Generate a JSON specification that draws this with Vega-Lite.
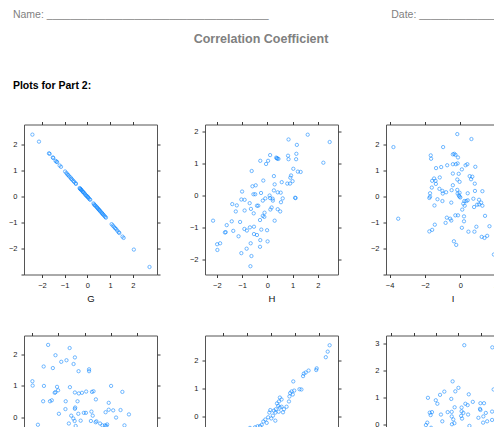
{
  "$schema": "https://vega.github.io/schema/vega-lite/v6.json",
  "background": "white",
  "padding": {"left": 7, "top": 10, "right": 0, "bottom": 0},
  "title": {
    "text": "Name: ______________________________________\u00a0\u00a0\u00a0\u00a0\u00a0\u00a0\u00a0\u00a0\u00a0\u00a0\u00a0\u00a0\u00a0\u00a0\u00a0\u00a0\u00a0\u00a0\u00a0\u00a0\u00a0\u00a0\u00a0\u00a0\u00a0\u00a0\u00a0\u00a0\u00a0\u00a0\u00a0\u00a0\u00a0\u00a0\u00a0\u00a0\u00a0\u00a0\u00a0\u00a0\u00a0\u00a0Date: __________________",
    "anchor": "start",
    "dx": 5,
    "font": "Liberation Sans",
    "fontSize": 10.5,
    "fontWeight": "normal",
    "color": "#7f7f7f",
    "offset": 11.7
  },
  "spacing": 32.5,
  "datasets": {
    "G": [
      {"x": -2.42, "y": 2.39}, {"x": -2.13, "y": 2.12}, {"x": -1.69, "y": 1.67}, {"x": -1.66, "y": 1.65},
      {"x": -1.52, "y": 1.51}, {"x": -1.5, "y": 1.49}, {"x": -1.4, "y": 1.38}, {"x": -1.36, "y": 1.35},
      {"x": -1.33, "y": 1.33}, {"x": -1.22, "y": 1.2}, {"x": -1.16, "y": 1.15}, {"x": -0.98, "y": 0.97},
      {"x": -0.92, "y": 0.91}, {"x": -0.88, "y": 0.86}, {"x": -0.84, "y": 0.83}, {"x": -0.8, "y": 0.78},
      {"x": -0.74, "y": 0.74}, {"x": -0.71, "y": 0.69}, {"x": -0.67, "y": 0.66}, {"x": -0.62, "y": 0.61},
      {"x": -0.58, "y": 0.57}, {"x": -0.52, "y": 0.52}, {"x": -0.5, "y": 0.49}, {"x": -0.34, "y": 0.33},
      {"x": -0.32, "y": 0.31}, {"x": -0.3, "y": 0.29}, {"x": -0.28, "y": 0.27}, {"x": -0.25, "y": 0.25},
      {"x": -0.22, "y": 0.21}, {"x": -0.19, "y": 0.18}, {"x": -0.16, "y": 0.16}, {"x": -0.13, "y": 0.13},
      {"x": -0.1, "y": 0.09}, {"x": -0.06, "y": 0.05}, {"x": -0.03, "y": 0.03}, {"x": 0.0, "y": 0.0},
      {"x": 0.03, "y": -0.02}, {"x": 0.06, "y": -0.06}, {"x": 0.1, "y": -0.1}, {"x": 0.13, "y": -0.12},
      {"x": 0.27, "y": -0.26}, {"x": 0.3, "y": -0.3}, {"x": 0.33, "y": -0.33}, {"x": 0.36, "y": -0.35},
      {"x": 0.4, "y": -0.39}, {"x": 0.43, "y": -0.42}, {"x": 0.46, "y": -0.45}, {"x": 0.49, "y": -0.48},
      {"x": 0.52, "y": -0.51}, {"x": 0.55, "y": -0.54}, {"x": 0.58, "y": -0.57}, {"x": 0.62, "y": -0.61},
      {"x": 0.65, "y": -0.64}, {"x": 0.68, "y": -0.67}, {"x": 0.71, "y": -0.7}, {"x": 0.75, "y": -0.74},
      {"x": 0.79, "y": -0.78}, {"x": 0.82, "y": -0.81}, {"x": 1.07, "y": -1.06}, {"x": 1.12, "y": -1.11},
      {"x": 1.17, "y": -1.16}, {"x": 1.22, "y": -1.21}, {"x": 1.27, "y": -1.25}, {"x": 1.32, "y": -1.31},
      {"x": 1.38, "y": -1.37}, {"x": 1.41, "y": -1.4}, {"x": 1.55, "y": -1.54}, {"x": 1.6, "y": -1.59},
      {"x": 2.05, "y": -2.04}, {"x": 2.74, "y": -2.71}
    ],
    "H": [
      {"x": 1.6, "y": 1.91}, {"x": 2.47, "y": 1.68}, {"x": 0.84, "y": 1.76}, {"x": 1.17, "y": 1.59},
      {"x": 0.11, "y": 1.27}, {"x": 0.35, "y": 1.19}, {"x": 0.4, "y": 1.16}, {"x": 0.44, "y": 1.15},
      {"x": 0.38, "y": 1.17}, {"x": 0.82, "y": 1.25}, {"x": 1.15, "y": 1.31}, {"x": 0.84, "y": 1.14},
      {"x": 1.14, "y": 1.14}, {"x": -0.28, "y": 1.09}, {"x": 0.03, "y": 1.09}, {"x": -0.05, "y": 0.99},
      {"x": 2.22, "y": 1.03}, {"x": 1.03, "y": 0.84}, {"x": 1.21, "y": 0.75}, {"x": 1.32, "y": 0.74},
      {"x": -0.62, "y": 0.77}, {"x": 0.26, "y": 0.61}, {"x": 0.94, "y": 0.63}, {"x": 0.91, "y": 0.56},
      {"x": 1.0, "y": 0.45}, {"x": 0.79, "y": 0.375}, {"x": 0.9, "y": 0.375}, {"x": 0.57, "y": 0.42},
      {"x": -0.16, "y": 0.47}, {"x": 0.29, "y": 0.35}, {"x": -0.46, "y": 0.32}, {"x": -0.59, "y": 0.29},
      {"x": -1.0, "y": 0.125}, {"x": -0.55, "y": 0.04}, {"x": -0.48, "y": 0.04}, {"x": -0.25, "y": 0.08},
      {"x": 0.26, "y": 0.16}, {"x": 0.41, "y": 0.1}, {"x": 0.53, "y": 0.09}, {"x": 0.09, "y": 0.0},
      {"x": 0.21, "y": -0.1}, {"x": 0.22, "y": -0.16}, {"x": 0.11, "y": -0.08}, {"x": -0.08, "y": -0.09},
      {"x": -0.18, "y": -0.16}, {"x": -1.03, "y": -0.125}, {"x": -0.9, "y": -0.135}, {"x": -1.39, "y": -0.27},
      {"x": -1.21, "y": -0.31}, {"x": -0.7, "y": -0.24}, {"x": 0.61, "y": -0.09}, {"x": 0.54, "y": -0.21},
      {"x": 1.1, "y": -0.07}, {"x": 1.12, "y": -0.08}, {"x": -0.65, "y": -0.42}, {"x": -0.41, "y": -0.32},
      {"x": -0.36, "y": -0.32}, {"x": -1.25, "y": -0.5}, {"x": -0.9, "y": -0.47}, {"x": 0.17, "y": -0.375},
      {"x": 0.12, "y": -0.44}, {"x": 0.41, "y": -0.43}, {"x": 0.51, "y": -0.5}, {"x": -0.54, "y": -0.56},
      {"x": -0.11, "y": -0.54}, {"x": -0.18, "y": -0.64}, {"x": -0.12, "y": -0.67}, {"x": -0.29, "y": -0.77},
      {"x": 0.29, "y": -0.79}, {"x": -2.15, "y": -0.79}, {"x": -1.41, "y": -0.81}, {"x": -1.08, "y": -0.83},
      {"x": -1.61, "y": -0.93}, {"x": -1.68, "y": -1.16}, {"x": -1.65, "y": -1.15}, {"x": -0.91, "y": -1.05},
      {"x": -0.81, "y": -1.1}, {"x": -0.69, "y": -1.0}, {"x": -0.53, "y": -0.98}, {"x": -1.35, "y": -1.11},
      {"x": -1.14, "y": -1.28}, {"x": -0.24, "y": -1.07}, {"x": -0.01, "y": -1.09}, {"x": -0.53, "y": -1.21},
      {"x": -0.41, "y": -1.24}, {"x": -0.28, "y": -1.4}, {"x": 0.01, "y": -1.44}, {"x": -1.87, "y": -1.5},
      {"x": -1.99, "y": -1.53}, {"x": -1.98, "y": -1.71}, {"x": -0.66, "y": -1.5}, {"x": -0.29, "y": -1.61},
      {"x": -0.82, "y": -1.67}, {"x": -1.03, "y": -1.81}, {"x": -0.63, "y": -1.9}, {"x": -0.67, "y": -2.22}
    ],
    "I": [
      {"x": -0.17, "y": 2.41}, {"x": 0.63, "y": 2.22}, {"x": -3.78, "y": 1.91}, {"x": -0.97, "y": 1.91},
      {"x": -1.67, "y": 1.59}, {"x": -1.65, "y": 1.46}, {"x": -0.34, "y": 1.65}, {"x": -0.27, "y": 1.61},
      {"x": -0.42, "y": 1.63}, {"x": -0.13, "y": 1.51}, {"x": -0.25, "y": 1.25}, {"x": -0.74, "y": 1.21},
      {"x": -0.42, "y": 1.25}, {"x": -0.15, "y": 1.28}, {"x": 0.3, "y": 1.21}, {"x": 0.4, "y": 1.25},
      {"x": 0.85, "y": 1.15}, {"x": -1.37, "y": 1.1}, {"x": -1.08, "y": 1.14}, {"x": 0.09, "y": 1.05},
      {"x": -0.42, "y": 0.89}, {"x": -0.09, "y": 0.88}, {"x": 0.53, "y": 0.79}, {"x": 0.68, "y": 0.77},
      {"x": 0.61, "y": 0.67}, {"x": -1.16, "y": 0.74}, {"x": -1.48, "y": 0.7}, {"x": -1.59, "y": 0.61},
      {"x": -1.4, "y": 0.61}, {"x": -1.38, "y": 0.49}, {"x": -0.17, "y": 0.66}, {"x": -0.04, "y": 0.57},
      {"x": 0.82, "y": 0.5}, {"x": -1.61, "y": 0.35}, {"x": -0.42, "y": 0.44}, {"x": -1.18, "y": 0.3},
      {"x": -1.01, "y": 0.22}, {"x": -0.99, "y": 0.12}, {"x": -0.8, "y": 0.17}, {"x": -0.49, "y": 0.25},
      {"x": -0.17, "y": 0.26}, {"x": -0.04, "y": 0.15}, {"x": -0.15, "y": 0.12}, {"x": 0.42, "y": 0.13},
      {"x": 0.83, "y": 0.22}, {"x": 1.25, "y": 0.21}, {"x": -1.71, "y": 0.13}, {"x": -1.71, "y": 0.0},
      {"x": -1.75, "y": -0.05}, {"x": -0.08, "y": 0.04}, {"x": -0.04, "y": 0.0}, {"x": 0.0, "y": -0.03},
      {"x": -1.29, "y": -0.1}, {"x": -1.01, "y": -0.17}, {"x": -0.51, "y": -0.23}, {"x": 0.23, "y": -0.17},
      {"x": 0.34, "y": -0.17}, {"x": 0.17, "y": -0.27}, {"x": 0.42, "y": -0.14}, {"x": 0.74, "y": -0.08},
      {"x": 1.06, "y": -0.12}, {"x": 0.95, "y": -0.31}, {"x": 1.18, "y": -0.23}, {"x": 1.06, "y": -0.3},
      {"x": -1.46, "y": -0.34}, {"x": 0.25, "y": -0.35}, {"x": 0.78, "y": -0.4}, {"x": 1.25, "y": -0.35},
      {"x": 0.11, "y": -0.5}, {"x": -0.28, "y": -0.72}, {"x": -0.13, "y": -0.72}, {"x": 1.4, "y": -0.74},
      {"x": -0.76, "y": -0.81}, {"x": -0.57, "y": -0.85}, {"x": -0.51, "y": -0.92}, {"x": -0.83, "y": -1.01},
      {"x": 0.21, "y": -0.76}, {"x": 0.21, "y": -0.95}, {"x": -3.51, "y": -0.85}, {"x": -1.44, "y": -1.08},
      {"x": -1.59, "y": -1.28}, {"x": -1.75, "y": -1.34}, {"x": 0.09, "y": -1.2}, {"x": 0.91, "y": -1.16},
      {"x": 1.65, "y": -1.14}, {"x": 0.46, "y": -1.35}, {"x": 0.8, "y": -1.35}, {"x": 1.21, "y": -1.55},
      {"x": 1.37, "y": -1.59}, {"x": 1.52, "y": -1.51}, {"x": -0.36, "y": -1.72}, {"x": -0.23, "y": -1.86},
      {"x": 1.9, "y": -2.23}
    ],
    "J": [
      {"x": -1.39, "y": 2.31}, {"x": -0.57, "y": 2.21}, {"x": -1.11, "y": 1.98}, {"x": -0.37, "y": 1.91},
      {"x": -0.89, "y": 1.77}, {"x": -0.69, "y": 1.82}, {"x": -0.42, "y": 1.7}, {"x": -1.56, "y": 1.62},
      {"x": -1.21, "y": 1.57}, {"x": -0.23, "y": 1.47}, {"x": 0.17, "y": 1.53}, {"x": 0.17, "y": 1.47},
      {"x": -1.99, "y": 1.15}, {"x": -1.98, "y": 1.01}, {"x": -1.55, "y": 1.0}, {"x": -1.05, "y": 0.97},
      {"x": -0.56, "y": 0.96}, {"x": 1.01, "y": 1.0}, {"x": -1.01, "y": 0.86}, {"x": -1.11, "y": 0.8},
      {"x": -1.14, "y": 0.78}, {"x": -0.37, "y": 0.79}, {"x": -0.22, "y": 0.76}, {"x": -0.1, "y": 0.78},
      {"x": 0.06, "y": 0.82}, {"x": 0.28, "y": 0.81}, {"x": 0.34, "y": 0.83}, {"x": 1.44, "y": 0.81},
      {"x": 0.43, "y": 0.57}, {"x": -1.58, "y": 0.51}, {"x": -1.32, "y": 0.51}, {"x": -1.25, "y": 0.54},
      {"x": -0.72, "y": 0.51}, {"x": -0.27, "y": 0.51}, {"x": 0.92, "y": 0.46}, {"x": -0.73, "y": 0.26},
      {"x": -0.37, "y": 0.27}, {"x": -0.36, "y": 0.31}, {"x": -0.03, "y": 0.14}, {"x": 0.05, "y": 0.14},
      {"x": 0.26, "y": 0.18}, {"x": 0.8, "y": 0.16}, {"x": 0.92, "y": 0.24}, {"x": 1.09, "y": 0.22},
      {"x": 1.37, "y": 0.23}, {"x": 1.69, "y": 0.09}, {"x": -0.98, "y": 0.11}, {"x": -0.24, "y": 0.11},
      {"x": -0.51, "y": 0.05}, {"x": -0.43, "y": -0.04}, {"x": 0.31, "y": 0.05}, {"x": 1.2, "y": -0.01},
      {"x": -0.15, "y": -0.11}, {"x": -0.38, "y": -0.12}, {"x": 0.24, "y": -0.12}, {"x": 0.45, "y": -0.13},
      {"x": 0.42, "y": -0.16}, {"x": 0.59, "y": -0.2}, {"x": 0.68, "y": -0.26}, {"x": 0.78, "y": -0.26},
      {"x": 0.86, "y": -0.23}, {"x": 0.83, "y": -0.28}, {"x": -0.6, "y": -0.2}, {"x": -0.34, "y": -0.28},
      {"x": -1.78, "y": -0.24}, {"x": 1.52, "y": -0.26}
    ],
    "K": [
      {"x": 2.44, "y": 2.55}, {"x": 2.36, "y": 2.32}, {"x": 2.28, "y": 2.12}, {"x": 1.9, "y": 1.72},
      {"x": 1.88, "y": 1.66}, {"x": 1.56, "y": 1.64}, {"x": 1.44, "y": 1.57}, {"x": 1.36, "y": 1.53},
      {"x": 1.33, "y": 1.44}, {"x": 0.92, "y": 1.25}, {"x": 1.18, "y": 0.97}, {"x": 1.26, "y": 0.96},
      {"x": 0.85, "y": 0.89}, {"x": 0.79, "y": 0.83}, {"x": 0.96, "y": 0.92}, {"x": 0.9, "y": 0.78},
      {"x": 0.76, "y": 0.71}, {"x": 0.74, "y": 0.53}, {"x": 0.36, "y": 0.67}, {"x": 0.43, "y": 0.6},
      {"x": 0.32, "y": 0.53}, {"x": 0.24, "y": 0.46}, {"x": 0.29, "y": 0.37}, {"x": 0.36, "y": 0.31},
      {"x": 0.43, "y": 0.34}, {"x": 0.19, "y": 0.25}, {"x": 0.11, "y": 0.2}, {"x": 0.31, "y": 0.16},
      {"x": 0.17, "y": 0.13}, {"x": -0.04, "y": 0.22}, {"x": -0.08, "y": 0.13}, {"x": 0.07, "y": 0.02},
      {"x": 0.0, "y": -0.08}, {"x": -0.13, "y": -0.04}, {"x": -0.25, "y": -0.12}, {"x": -0.33, "y": -0.19},
      {"x": -0.4, "y": -0.31}, {"x": -0.47, "y": -0.36}, {"x": -0.57, "y": -0.36}, {"x": -0.19, "y": -0.24},
      {"x": 0.64, "y": 0.34}, {"x": 0.53, "y": 0.25}, {"x": 0.49, "y": 0.14}, {"x": 0.17, "y": -0.16},
      {"x": -0.68, "y": -0.4}, {"x": -0.89, "y": -0.42}
    ],
    "L": [
      {"x": 1.26, "y": 2.94}, {"x": 2.51, "y": 2.86}, {"x": 0.74, "y": 1.6}, {"x": 1.0, "y": 1.36},
      {"x": 0.86, "y": 1.23}, {"x": 0.37, "y": 1.22}, {"x": 0.18, "y": 1.1}, {"x": 1.46, "y": 1.12},
      {"x": -0.36, "y": 0.99}, {"x": -0.01, "y": 0.9}, {"x": 0.68, "y": 0.95}, {"x": 1.64, "y": 0.84},
      {"x": 0.06, "y": 0.77}, {"x": 1.31, "y": 0.77}, {"x": 1.41, "y": 0.72}, {"x": 1.98, "y": 0.79},
      {"x": 2.14, "y": 0.79}, {"x": 0.83, "y": 0.64}, {"x": 1.14, "y": 0.63}, {"x": 1.96, "y": 0.58},
      {"x": 1.98, "y": 0.54}, {"x": -0.28, "y": 0.44}, {"x": -0.18, "y": 0.46}, {"x": -0.24, "y": 0.35},
      {"x": 0.22, "y": 0.37}, {"x": 0.52, "y": 0.46}, {"x": 0.7, "y": 0.47}, {"x": 1.14, "y": 0.49},
      {"x": 1.22, "y": 0.43}, {"x": 1.12, "y": 0.32}, {"x": 1.16, "y": 0.22}, {"x": 2.22, "y": 0.43},
      {"x": 2.5, "y": 0.48}, {"x": 0.7, "y": 0.3}, {"x": 0.77, "y": 0.19}, {"x": 1.43, "y": 0.37},
      {"x": 1.89, "y": 0.25}, {"x": 2.11, "y": 0.3}, {"x": 2.28, "y": 0.12}, {"x": 2.5, "y": 0.17},
      {"x": 0.28, "y": 0.12}, {"x": -0.39, "y": 0.07}, {"x": -0.45, "y": -0.02}, {"x": 0.82, "y": 0.05},
      {"x": 0.71, "y": 0.01}, {"x": 1.49, "y": -0.05}, {"x": 2.1, "y": 0.07}, {"x": -0.22, "y": -0.12},
      {"x": 2.57, "y": 1.3}
    ]
  },
  "vconcat": [
    {
      "width": 474,
      "height": 1,
      "view": {"stroke": null},
      "title": {
        "text": "Correlation Coefficient",
        "anchor": "middle",
        "frame": "group",
        "font": "Liberation Sans",
        "fontSize": 12.5,
        "fontWeight": "bold",
        "color": "#808080",
        "offset": 2
      },
      "data": {"values": []},
      "mark": "point",
      "encoding": {}
    },
    {
      "title": {
        "text": "Plots for Part 2:",
        "anchor": "start",
        "dx": 5,
        "font": "Liberation Sans",
        "fontSize": 10.5,
        "fontWeight": "bold",
        "color": "#000000",
        "offset": 29
      },
      "bounds": "flush",
      "columns": 3,
      "spacing": {"column": 48, "row": 61},
      "concat": [
        {
          "width": 133, "height": 150,
          "data": {"name": "G"},
          "layer": [
            {
              "mark": {"type": "point", "shape": "circle", "filled": false, "color": "#0080ff", "size": 11, "strokeWidth": 0.8},
              "encoding": {
                "x": {"field": "x", "type": "quantitative", "scale": {"domain": [-2.79, 3.07], "nice": false, "zero": false},
                      "axis": {"orient": "bottom", "values": [-2, -1, 0, 1, 2], "title": "G"}},
                "y": {"field": "y", "type": "quantitative", "scale": {"domain": [-3, 2.78], "nice": false, "zero": false},
                      "axis": {"orient": "left", "values": [-3, -2, -1, 0, 1, 2], "labelExpr": "datum.value < -2.5 ? '' : datum.label", "title": null}}
              }
            },
            {
              "mark": {"type": "point", "opacity": 0},
              "encoding": {
                "x": {"field": "x", "type": "quantitative", "scale": {"domain": [-2.79, 3.07], "nice": false, "zero": false},
                      "axis": {"orient": "top", "values": [-2, -1, 0, 1, 2], "labels": false, "title": null}},
                "y": {"field": "y", "type": "quantitative", "scale": {"domain": [-3, 2.78], "nice": false, "zero": false},
                      "axis": {"orient": "right", "values": [-3, -2, -1, 0, 1, 2], "labels": false, "title": null}}
              }
            }
          ],
          "resolve": {"axis": {"x": "independent", "y": "independent"}}
        },
        {
          "width": 133, "height": 150,
          "data": {"name": "H"},
          "layer": [
            {
              "mark": {"type": "point", "shape": "circle", "filled": false, "color": "#0080ff", "size": 11, "strokeWidth": 0.8},
              "encoding": {
                "x": {"field": "x", "type": "quantitative", "scale": {"domain": [-2.47, 2.8], "nice": false, "zero": false},
                      "axis": {"orient": "bottom", "values": [-2, -1, 0, 1, 2], "title": "H"}},
                "y": {"field": "y", "type": "quantitative", "scale": {"domain": [-2.48, 2.23], "nice": false, "zero": false},
                      "axis": {"orient": "left", "values": [-2, -1, 0, 1, 2], "title": null}}
              }
            },
            {
              "mark": {"type": "point", "opacity": 0},
              "encoding": {
                "x": {"field": "x", "type": "quantitative", "scale": {"domain": [-2.47, 2.8], "nice": false, "zero": false},
                      "axis": {"orient": "top", "values": [-2, -1, 0, 1, 2], "labels": false, "title": null}},
                "y": {"field": "y", "type": "quantitative", "scale": {"domain": [-2.48, 2.23], "nice": false, "zero": false},
                      "axis": {"orient": "right", "values": [-2, -1, 0, 1, 2], "labels": false, "title": null}}
              }
            }
          ],
          "resolve": {"axis": {"x": "independent", "y": "independent"}}
        },
        {
          "width": 133, "height": 150,
          "data": {"name": "I"},
          "layer": [
            {
              "mark": {"type": "point", "shape": "circle", "filled": false, "color": "#0080ff", "size": 11, "strokeWidth": 0.8},
              "encoding": {
                "x": {"field": "x", "type": "quantitative", "scale": {"domain": [-4.2, 3.32], "nice": false, "zero": false},
                      "axis": {"orient": "bottom", "values": [-4, -2, 0, 2], "title": "I"}},
                "y": {"field": "y", "type": "quantitative", "scale": {"domain": [-3, 2.78], "nice": false, "zero": false},
                      "axis": {"orient": "left", "values": [-3, -2, -1, 0, 1, 2], "labelExpr": "datum.value < -2.5 ? '' : datum.label", "title": null}}
              }
            },
            {
              "mark": {"type": "point", "opacity": 0},
              "encoding": {
                "x": {"field": "x", "type": "quantitative", "scale": {"domain": [-4.2, 3.32], "nice": false, "zero": false},
                      "axis": {"orient": "top", "values": [-4, -2, 0, 2], "labels": false, "title": null}},
                "y": {"field": "y", "type": "quantitative", "scale": {"domain": [-3, 2.78], "nice": false, "zero": false},
                      "axis": {"orient": "right", "values": [-3, -2, -1, 0, 1, 2], "labels": false, "title": null}}
              }
            }
          ],
          "resolve": {"axis": {"x": "independent", "y": "independent"}}
        },
        {
          "width": 133, "height": 150,
          "data": {"name": "J"},
          "layer": [
            {
              "mark": {"type": "point", "shape": "circle", "filled": false, "color": "#0080ff", "size": 11, "strokeWidth": 0.8},
              "encoding": {
                "x": {"field": "x", "type": "quantitative", "scale": {"domain": [-2.31, 2.76], "nice": false, "zero": false},
                      "axis": {"orient": "bottom", "values": [-2, -1, 0, 1, 2], "title": "J"}},
                "y": {"field": "y", "type": "quantitative", "scale": {"domain": [-2.18, 2.61], "nice": false, "zero": false},
                      "axis": {"orient": "left", "values": [-2, -1, 0, 1, 2], "title": null}}
              }
            },
            {
              "mark": {"type": "point", "opacity": 0},
              "encoding": {
                "x": {"field": "x", "type": "quantitative", "scale": {"domain": [-2.31, 2.76], "nice": false, "zero": false},
                      "axis": {"orient": "top", "values": [-2, -1, 0, 1, 2], "labels": false, "title": null}},
                "y": {"field": "y", "type": "quantitative", "scale": {"domain": [-2.18, 2.61], "nice": false, "zero": false},
                      "axis": {"orient": "right", "values": [-2, -1, 0, 1, 2], "labels": false, "title": null}}
              }
            }
          ],
          "resolve": {"axis": {"x": "independent", "y": "independent"}}
        },
        {
          "width": 133, "height": 150,
          "data": {"name": "K"},
          "layer": [
            {
              "mark": {"type": "point", "shape": "circle", "filled": false, "color": "#0080ff", "size": 11, "strokeWidth": 0.8},
              "encoding": {
                "x": {"field": "x", "type": "quantitative", "scale": {"domain": [-2.77, 2.79], "nice": false, "zero": false},
                      "axis": {"orient": "bottom", "values": [-2, -1, 0, 1, 2], "title": "K"}},
                "y": {"field": "y", "type": "quantitative", "scale": {"domain": [-2.49, 2.9], "nice": false, "zero": false},
                      "axis": {"orient": "left", "values": [-2, -1, 0, 1, 2], "title": null}}
              }
            },
            {
              "mark": {"type": "point", "opacity": 0},
              "encoding": {
                "x": {"field": "x", "type": "quantitative", "scale": {"domain": [-2.77, 2.79], "nice": false, "zero": false},
                      "axis": {"orient": "top", "values": [-2, -1, 0, 1, 2], "labels": false, "title": null}},
                "y": {"field": "y", "type": "quantitative", "scale": {"domain": [-2.49, 2.9], "nice": false, "zero": false},
                      "axis": {"orient": "right", "values": [-2, -1, 0, 1, 2], "labels": false, "title": null}}
              }
            }
          ],
          "resolve": {"axis": {"x": "independent", "y": "independent"}}
        },
        {
          "width": 133, "height": 150,
          "data": {"name": "L"},
          "layer": [
            {
              "mark": {"type": "point", "shape": "circle", "filled": false, "color": "#0080ff", "size": 11, "strokeWidth": 0.8},
              "encoding": {
                "x": {"field": "x", "type": "quantitative", "scale": {"domain": [-2.23, 3.7], "nice": false, "zero": false},
                      "axis": {"orient": "bottom", "values": [-2, -1, 0, 1, 2, 3], "title": "L"}},
                "y": {"field": "y", "type": "quantitative", "scale": {"domain": [-2.26, 3.3], "nice": false, "zero": false},
                      "axis": {"orient": "left", "values": [-2, -1, 0, 1, 2, 3], "title": null}}
              }
            },
            {
              "mark": {"type": "point", "opacity": 0},
              "encoding": {
                "x": {"field": "x", "type": "quantitative", "scale": {"domain": [-2.23, 3.7], "nice": false, "zero": false},
                      "axis": {"orient": "top", "values": [-2, -1, 0, 1, 2, 3], "labels": false, "title": null}},
                "y": {"field": "y", "type": "quantitative", "scale": {"domain": [-2.26, 3.3], "nice": false, "zero": false},
                      "axis": {"orient": "right", "values": [-2, -1, 0, 1, 2, 3], "labels": false, "title": null}}
              }
            }
          ],
          "resolve": {"axis": {"x": "independent", "y": "independent"}}
        }
      ]
    }
  ],
  "config": {
    "font": "Liberation Sans",
    "view": {"stroke": "#555555", "strokeWidth": 1},
    "axis": {
      "domain": false,
      "grid": false,
      "ticks": true,
      "tickColor": "#3a3a3a",
      "tickSize": 3,
      "tickWidth": 1,
      "labelFont": "Liberation Sans",
      "labelFontSize": 7.5,
      "labelColor": "#1a1a1a",
      "labelPadding": 4,
      "labelFlush": false,
      "titleFont": "Liberation Sans",
      "titleFontSize": 9.5,
      "titleFontWeight": "normal",
      "titleColor": "#111111",
      "titlePadding": 4
    }
  }
}
